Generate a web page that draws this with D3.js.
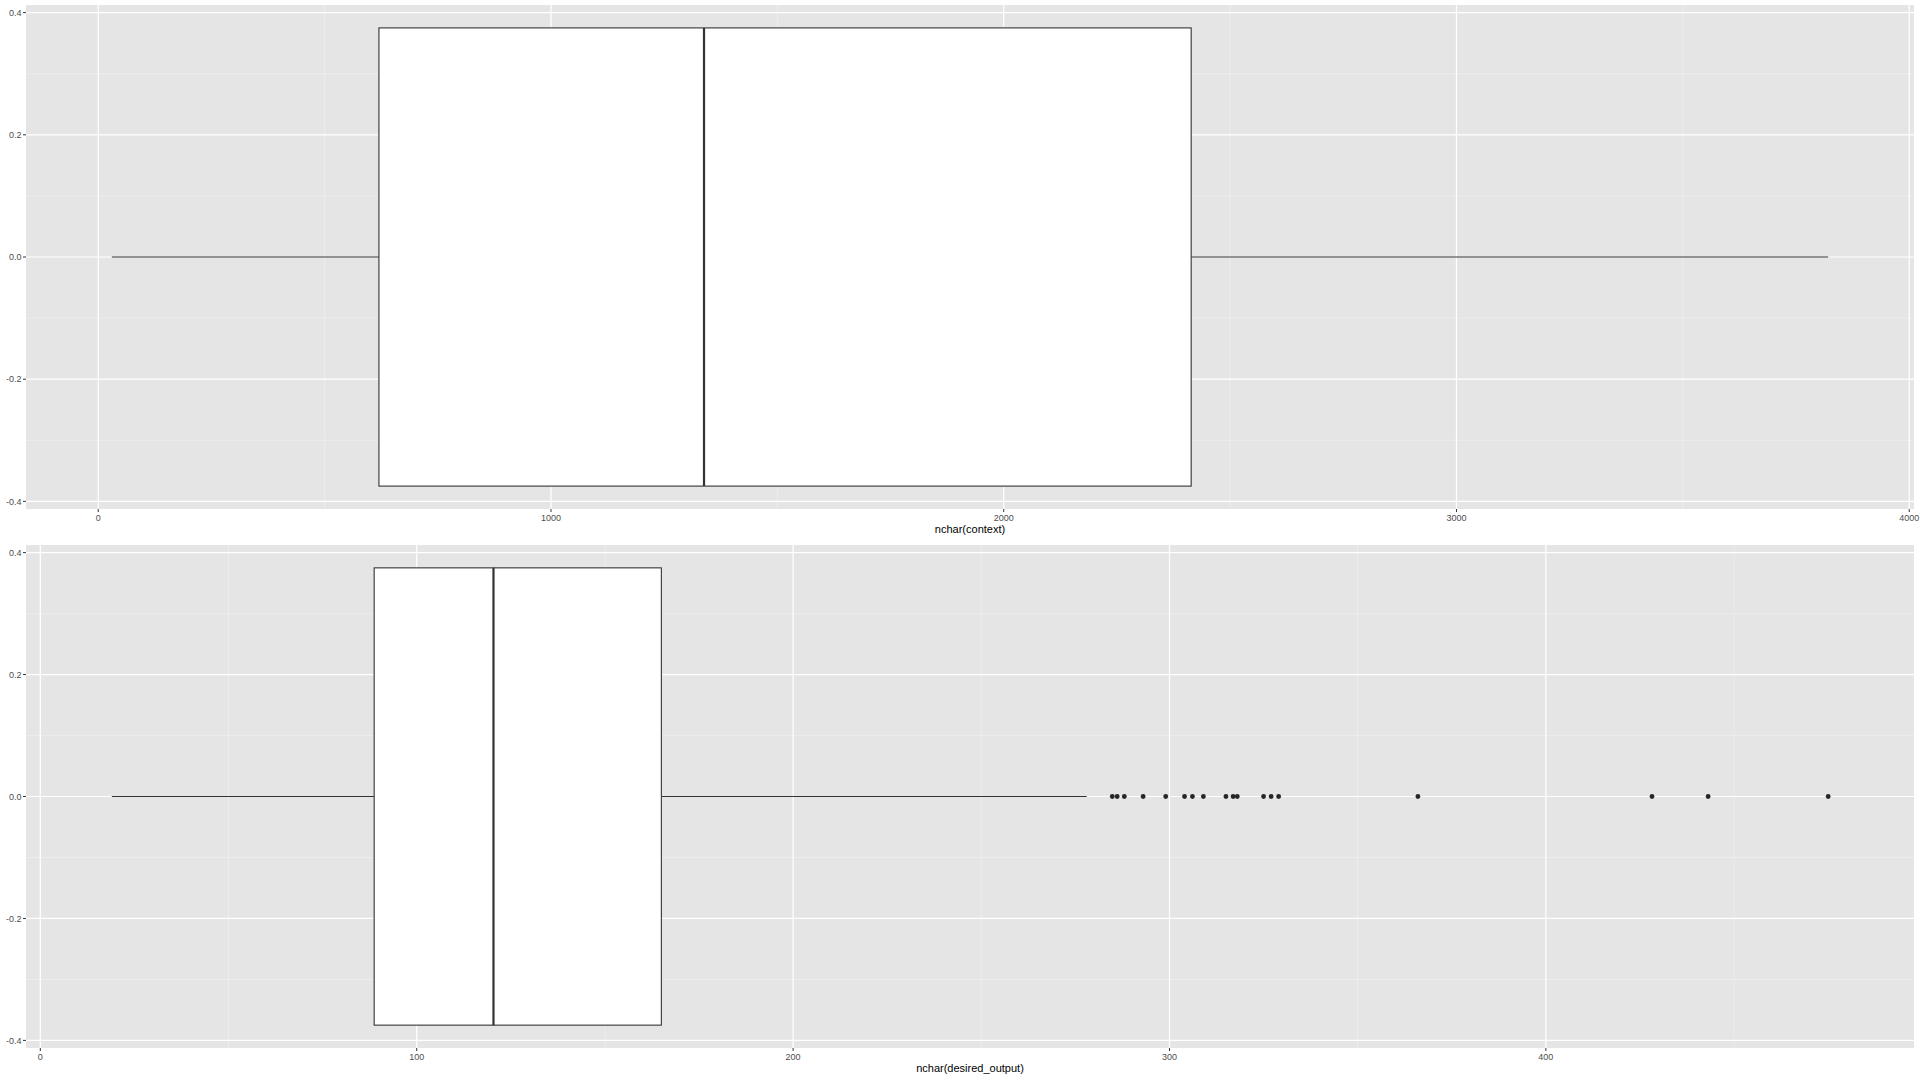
<!DOCTYPE html>
<html>
<head>
<meta charset="utf-8">
<script src="https://cdn.jsdelivr.net/npm/d3@7"></script>
<style>
  html, body { margin: 0; padding: 0; background: #ffffff; }
  svg { display: block; }
</style>
</head>
<body>
<svg id="chart" width="1920" height="1080"></svg>
<script>
// ---------- data ----------
// Panel 1: nchar(context) — five-number summary [min whisker, Q1, median, Q3, max whisker]
const contextStats = [30, 620, 1338, 2414, 3821];
const contextOutliers = [];
const contextTicks = [0, 1000, 2000, 3000, 4000];
const contextTickLabels = ["0", "1000", "2000", "3000", "4000"];
const contextTitle = "nchar(context)";

// Panel 2: nchar(desired_output)
const outputStats = [19, 88.7, 120.4, 165, 278];
const outputOutliers = [284.8, 286.1, 288, 293, 299, 304, 306.1, 309, 315, 316.9, 318, 325, 327, 329, 366, 428.2, 443.1, 475];
const outputTicks = [0, 100, 200, 300, 400];
const outputTickLabels = ["0", "100", "200", "300", "400"];
const outputTitle = "nchar(desired_output)";

const yTicks = [-0.4, -0.2, 0, 0.2, 0.4];
const yTickLabels = ["-0.4", "-0.2", "0.0", "0.2", "0.4"];

// ---------- drawing ----------
const svg = d3.select("#chart");
const FONT = "'Liberation Sans', Arial, Helvetica, sans-serif";

function drawPanel(cfg) {
  const { left, right, top, bottom, stats, outliers, ticks, tickLabels, minorStep, title } = cfg;
  const allVals = stats.concat(outliers);
  const lo = d3.min(allVals), hi = d3.max(allVals);
  const pad = (hi - lo) * 0.05;
  const x = d3.scaleLinear().domain([lo - pad, hi + pad]).range([left, right]);
  const y = d3.scaleLinear().domain([-0.4125, 0.4125]).range([bottom, top]);

  const g = svg.append("g");
  // background
  g.append("rect").attr("x", left).attr("y", top)
    .attr("width", right - left).attr("height", bottom - top)
    .attr("fill", "#e5e5e5");

  // minor grid
  const [d0, d1] = x.domain();
  const minorX = d3.range(Math.ceil(d0 / minorStep) * minorStep, d1, minorStep)
    .filter(v => !ticks.includes(v) && Math.abs(v / minorStep) % 2 === 1);
  const minorY = [-0.3, -0.1, 0.1, 0.3];
  g.selectAll(".mx").data(minorX).join("line")
    .attr("x1", d => x(d)).attr("x2", d => x(d)).attr("y1", top).attr("y2", bottom)
    .attr("stroke", "#f2f2f2").attr("stroke-width", 0.6);
  g.selectAll(".my").data(minorY).join("line")
    .attr("x1", left).attr("x2", right).attr("y1", d => y(d)).attr("y2", d => y(d))
    .attr("stroke", "#f2f2f2").attr("stroke-width", 0.6);
  // major grid
  g.selectAll(".Mx").data(ticks).join("line")
    .attr("x1", d => x(d)).attr("x2", d => x(d)).attr("y1", top).attr("y2", bottom)
    .attr("stroke", "#ffffff").attr("stroke-width", 1.2);
  g.selectAll(".My").data(yTicks).join("line")
    .attr("x1", left).attr("x2", right).attr("y1", d => y(d)).attr("y2", d => y(d))
    .attr("stroke", "#ffffff").attr("stroke-width", 1.2);

  // whiskers
  const [wmin, q1, med, q3, wmax] = stats;
  g.append("line").attr("x1", x(wmin)).attr("x2", x(q1)).attr("y1", y(0)).attr("y2", y(0))
    .attr("stroke", "#333333").attr("stroke-width", 1.1);
  g.append("line").attr("x1", x(q3)).attr("x2", x(wmax)).attr("y1", y(0)).attr("y2", y(0))
    .attr("stroke", "#333333").attr("stroke-width", 1.1);
  // box
  g.append("rect").attr("x", x(q1)).attr("y", y(0.375))
    .attr("width", x(q3) - x(q1)).attr("height", y(-0.375) - y(0.375))
    .attr("fill", "#ffffff").attr("stroke", "#333333").attr("stroke-width", 1.1);
  // median
  g.append("line").attr("x1", x(med)).attr("x2", x(med)).attr("y1", y(0.375)).attr("y2", y(-0.375))
    .attr("stroke", "#333333").attr("stroke-width", 2.2);
  // outliers
  g.selectAll(".out").data(outliers).join("circle")
    .attr("cx", d => x(d)).attr("cy", y(0)).attr("r", 2.4)
    .attr("fill", "#262626");

  // axes: y ticks
  g.selectAll(".yt").data(yTicks).join("line")
    .attr("x1", left - 3).attr("x2", left).attr("y1", d => y(d)).attr("y2", d => y(d))
    .attr("stroke", "#333333").attr("stroke-width", 1);
  g.selectAll(".yl").data(yTicks).join("text")
    .attr("x", left - 4.5).attr("y", d => y(d) + 3.2)
    .attr("text-anchor", "end").attr("font-family", FONT).attr("font-size", 9)
    .attr("fill", "#4d4d4d").text((d, i) => yTickLabels[i]);
  // x ticks
  g.selectAll(".xt").data(ticks).join("line")
    .attr("x1", d => x(d)).attr("x2", d => x(d)).attr("y1", bottom).attr("y2", bottom + 3)
    .attr("stroke", "#333333").attr("stroke-width", 1);
  g.selectAll(".xl").data(ticks).join("text")
    .attr("x", d => x(d)).attr("y", bottom + 11.5)
    .attr("text-anchor", "middle").attr("font-family", FONT).attr("font-size", 9)
    .attr("fill", "#4d4d4d").text((d, i) => tickLabels[i]);
  // title
  g.append("text").attr("x", (left + right) / 2).attr("y", bottom + 24)
    .attr("text-anchor", "middle").attr("font-family", FONT).attr("font-size", 11)
    .attr("fill", "#000000").text(title);
}

drawPanel({ left: 26, right: 1914, top: 5, bottom: 509,
  stats: contextStats, outliers: contextOutliers, ticks: contextTicks,
  tickLabels: contextTickLabels, minorStep: 500, title: contextTitle });
drawPanel({ left: 26, right: 1914, top: 545, bottom: 1048,
  stats: outputStats, outliers: outputOutliers, ticks: outputTicks,
  tickLabels: outputTickLabels, minorStep: 50, title: outputTitle });
</script>
</body>
</html>
